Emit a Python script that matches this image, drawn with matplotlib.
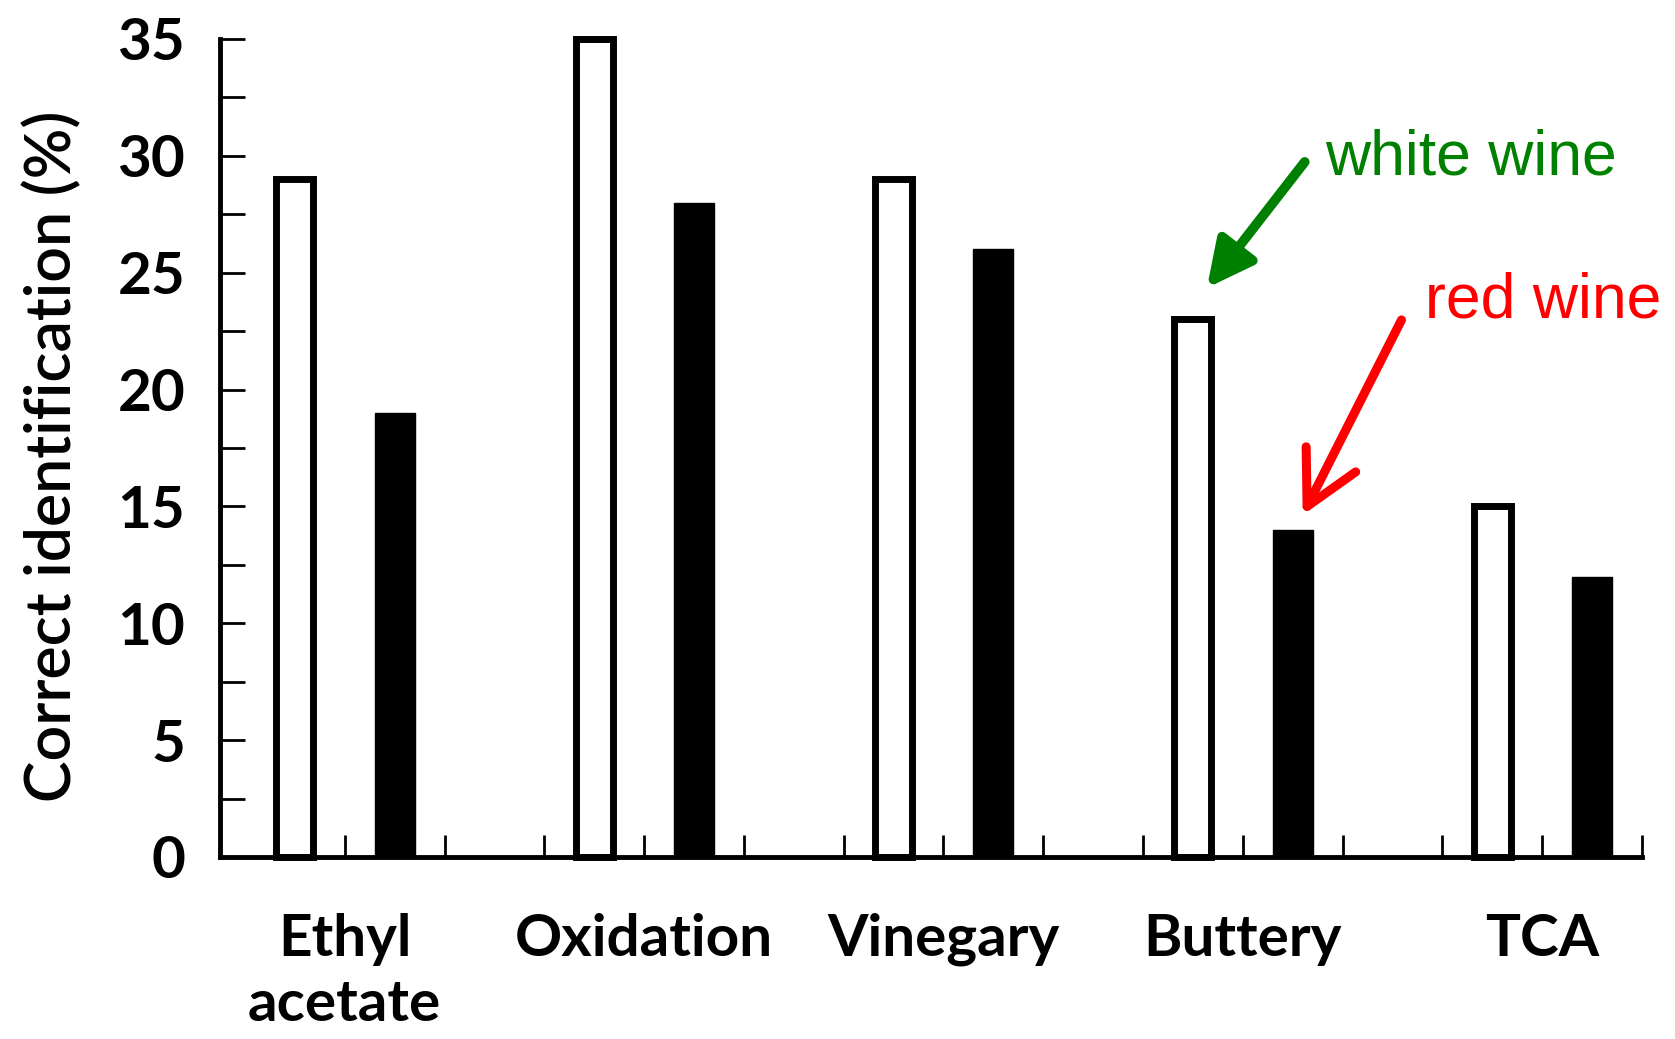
import matplotlib
matplotlib.use("Agg")
import matplotlib.pyplot as plt
import numpy as np

categories = ["Ethyl\nacetate", "Oxidation", "Vinegary", "Buttery", "TCA"]
white_wine = [29, 35, 29, 23, 15]
red_wine = [19, 28, 26, 14, 12]
y_major = [0, 5, 10, 15, 20, 25, 30, 35]

plt.rcParams['font.family'] = ['Lato', 'DejaVu Sans']

fig = plt.figure(figsize=(16.75, 10.39), dpi=100)
ax = fig.add_axes([220 / 1675, 182 / 1039, 1422 / 1675, 818 / 1039])

group = np.arange(len(categories)) * 3
ax.bar(group + 0.5, white_wine, width=0.37, color='white', edgecolor='black',
       linewidth=5, zorder=3, clip_on=False)
ax.bar(group + 1.5, red_wine, width=0.40, color='black', edgecolor='black',
       linewidth=1, zorder=3, clip_on=False)

ax.set_xlim(-0.25, 14)
ax.set_ylim(0, 35)

for s in ['top', 'right']:
    ax.spines[s].set_visible(False)
for s in ['left', 'bottom']:
    ax.spines[s].set_linewidth(3.5)
    ax.spines[s].set_zorder(4)

ax.set_yticks(y_major)
ax.set_yticks(np.arange(0, 35.1, 2.5), minor=True)
ax.set_yticklabels([str(v) for v in y_major], fontweight='bold')
ax.tick_params(axis='y', which='both', direction='in', length=18, width=2, pad=25,
               labelsize=42)

ax.set_xticks(group + 1)
ax.set_xticklabels(categories, fontsize=42, linespacing=1.3, va='top',
                   fontweight='bold')
ax.set_xticks(np.arange(1, 15), minor=True)
ax.tick_params(axis='x', which='both', direction='in', length=16, width=2, pad=40)

ax.set_ylabel("Correct identification (%)", fontsize=45, fontweight='semibold')
ax.yaxis.set_label_coords(-0.097, 0.49)

ax.annotate("", xy=(9.64, 24.35), xytext=(10.62, 29.74),
            arrowprops=dict(arrowstyle='-|>,head_length=1.4,head_width=0.7',
                            color='#008000', lw=7, mutation_scale=20,
                            shrinkA=0, shrinkB=0), annotation_clip=False)
ax.text(10.82, 29.2, "white wine", color='#008000', fontsize=45,
        family=['Liberation Sans', 'DejaVu Sans'], va='baseline', ha='left')

ax.annotate("", xy=(10.6, 14.63), xytext=(11.59, 22.98),
            arrowprops=dict(arrowstyle='->,head_length=1.9,head_width=1.0',
                            color='#ff0000', lw=6.5, mutation_scale=20,
                            capstyle='round', joinstyle='round',
                            shrinkA=0, shrinkB=0), annotation_clip=False)
ax.text(11.83, 23.1, "red wine", color='#ff0000', fontsize=45,
        family=['Liberation Sans', 'DejaVu Sans'], va='baseline', ha='left')

fig.savefig("out.png", dpi=100)
